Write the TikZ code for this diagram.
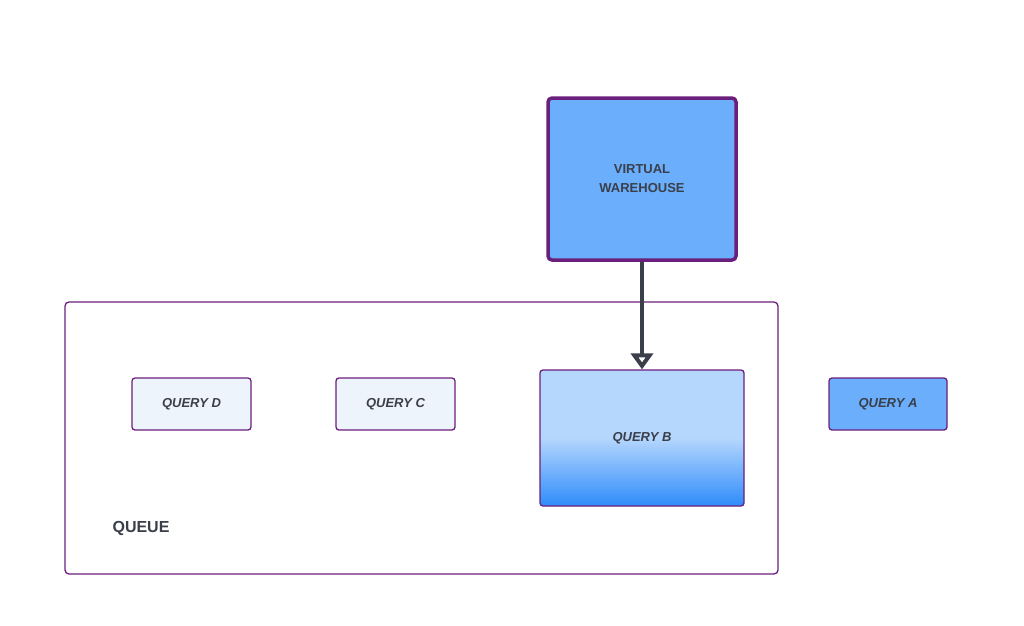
\documentclass[tikz,border=0pt]{standalone}
\usepackage{fontspec}
\setmainfont{Liberation Sans}
\usetikzlibrary{arrows.meta}
\definecolor{pur}{HTML}{6B1F7C}
\definecolor{txt}{HTML}{3A3F4A}
\definecolor{blu}{HTML}{6AAEFC}
\definecolor{lite}{HTML}{EEF4FC}
\definecolor{btop}{HTML}{B5D6FD}
\definecolor{bbot}{HTML}{2E8CFB}
\begin{document}
\begin{tikzpicture}[x=1pt,y=-1pt,
  q/.style={draw=pur,line width=1.3pt,rounded corners=3pt,text=txt,font=\fontsize{13}{15}\selectfont\bfseries\itshape},
]
\useasboundingbox (0,0) rectangle (1024,625);
\node[draw=pur,line width=1.3pt,rounded corners=4pt,minimum width=713pt,minimum height=272pt] (queue) at (421.5,438) {};
\node[text=txt,font=\fontsize{16}{18}\selectfont\bfseries] (ql) at (141,528) {QUEUE};
\node[q,fill=lite,minimum width=119pt,minimum height=52pt] (d) at (191.5,404) {QUERY D};
\node[q,fill=lite,minimum width=119pt,minimum height=52pt] (c) at (395.5,404) {QUERY C};
\node[q,fill=blu,minimum width=118pt,minimum height=52pt] (a) at (888,404) {QUERY A};
\node[q,top color=btop,bottom color=bbot,middle color=btop,minimum width=204pt,minimum height=136pt] (b) at (642,438) {QUERY B};
\node[draw=pur,line width=3.5pt,rounded corners=4pt,fill=blu,text=txt,align=center,
  font=\fontsize{13}{19}\selectfont\bfseries,minimum width=188pt,minimum height=162pt] (vw) at (642,179) {VIRTUAL\\WAREHOUSE};
\draw[txt,line width=4pt,-{Triangle[open,length=16pt,width=22pt]}] (vw.south) -- (b.north);
\end{tikzpicture}
\end{document}
